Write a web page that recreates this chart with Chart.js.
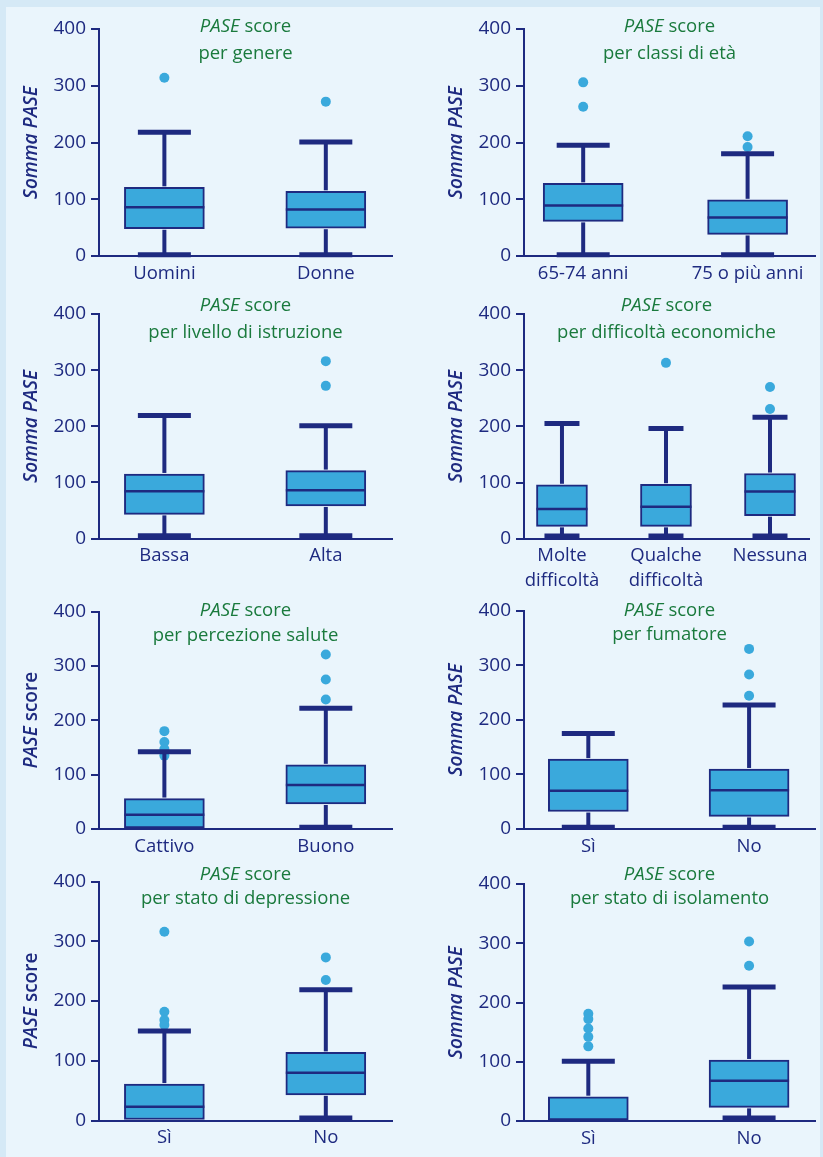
<!DOCTYPE html>
<html>
<head>
<meta charset="utf-8">
<script src="https://cdn.jsdelivr.net/npm/chart.js@4.4.1/dist/chart.umd.min.js"></script>
<style>
  body { margin: 0; width: 823px; height: 1157px; background: #d5e9f6; position: relative; overflow: hidden; }
  #panel { position: absolute; left: 6px; top: 7px; width: 814px; height: 1150px; background: #eaf5fc; }
  canvas { position: absolute; }
</style>
</head>
<body>
<div id="panel"></div>
<canvas id="c0"></canvas><canvas id="c1"></canvas>
<canvas id="c2"></canvas><canvas id="c3"></canvas>
<canvas id="c4"></canvas><canvas id="c5"></canvas>
<canvas id="c6"></canvas><canvas id="c7"></canvas>
<script>
// dati
const titles = ['per genere', 'per classi di età', 'per livello di istruzione', 'per difficoltà economiche',
    'per percezione salute', 'per fumatore', 'per stato di depressione', 'per stato di isolamento'];
const yTitles = ['Somma PASE', 'Somma PASE', 'Somma PASE', 'Somma PASE', 'PASE score', 'Somma PASE', 'PASE score', 'Somma PASE'];
const categories = [
    ['Uomini', 'Donne'],
    ['65-74 anni', '75 o più anni'],
    ['Bassa', 'Alta'],
    [['Molte', 'difficoltà'], ['Qualche', 'difficoltà'], 'Nessuna'],
    ['Cattivo', 'Buono'],
    ['Sì', 'No'],
    ['Sì', 'No'],
    ['Sì', 'No'],
];
const whiskerLow = [[2, 2], [2, 2], [5, 5], [5, 5, 5], [null, 3], [3, 3], [null, 4], [null, 5]];
const q1 = [[48, 49], [61, 38], [43, 58], [22, 22, 41], [0, 46], [32, 23], [0, 43], [0, 23]];
const median = [[86, 82], [89, 68], [84, 86], [53, 57, 84], [26, 81], [70, 71], [23, 80], [0, 68]];
const q3 = [[121, 114], [128, 99], [115, 121], [96, 97, 116], [56, 118], [128, 110], [61, 114], [41, 103]];
const whiskerHigh = [[218, 201], [195, 180], [219, 201], [205, 196, 216], [142, 222], [175, 227], [150, 219], [101, 226]];
const outliers = [
    [[314], [272]],
    [[306, 263], [211, 192]],
    [[], [316, 272]],
    [[], [313], [270, 231]],
    [[180, 160, 147, 135], [321, 275, 238]],
    [[], [330, 283, 244]],
    [[316, 182, 168, 160], [273, 235]],
    [[181, 172, 156, 142, 126], [303, 262]],
];
const yTicks = [0, 100, 200, 300, 400];

// posizione dei pannelli (pixel del canvas)
const layout = [
    { x: 0, y: 0, w: 411, h: 290, left: 99, right: 392, top: 29, bottom: 256, xmin: 0.595, xmax: 2.41, t1: 32, t2: 59 },
    { x: 411, y: 0, w: 412, h: 290, left: 113, right: 404, top: 29, bottom: 256, xmin: 0.64, xmax: 2.41, t1: 32, t2: 59 },
    { x: 0, y: 290, w: 411, h: 300, left: 99, right: 392, top: 24, bottom: 248.5, xmin: 0.595, xmax: 2.41, t1: 21, t2: 48 },
    { x: 411, y: 290, w: 412, h: 300, left: 113, right: 398, top: 24, bottom: 248.7, xmin: 0.635, xmax: 3.375, t1: 21, t2: 48 },
    { x: 0, y: 590, w: 411, h: 270, left: 99, right: 392, top: 21.5, bottom: 239, xmin: 0.595, xmax: 2.41, t1: 26, t2: 51 },
    { x: 411, y: 590, w: 412, h: 270, left: 113, right: 404, top: 20.7, bottom: 239, xmin: 0.6, xmax: 2.41, t1: 26, t2: 50 },
    { x: 0, y: 860, w: 411, h: 297, left: 99, right: 392, top: 21.5, bottom: 260.5, xmin: 0.595, xmax: 2.41, t1: 20, t2: 44 },
    { x: 411, y: 860, w: 412, h: 297, left: 113, right: 404, top: 24, bottom: 261, xmin: 0.6, xmax: 2.41, t1: 20, t2: 44 },
];

const NAVY = '#1e2a80';
const BOX = '#3aa9dc';
const GREEN = '#1a7a3d';
const FONT = "'Open Sans', 'Noto Sans', sans-serif";

function drawParts(ctx, parts, x, y, weight, size) {
    // parts: [testo, corsivo]
    let total = 0;
    parts.forEach(p => {
        ctx.font = (p[1] ? 'italic ' : '') + weight + ' ' + size + 'px ' + FONT;
        total += ctx.measureText(p[0]).width;
    });
    let cx = x - total / 2;
    parts.forEach(p => {
        ctx.font = (p[1] ? 'italic ' : '') + weight + ' ' + size + 'px ' + FONT;
        ctx.fillText(p[0], cx, y);
        cx += ctx.measureText(p[0]).width;
    });
}

function createChart(p) {
    const L = layout[p];
    const cats = categories[p];
    const barW = cats.length === 3 ? 51 : 80;
    const capW = cats.length === 3 ? 35 : 53;
    const canvas = document.getElementById('c' + p);
    canvas.width = L.w;
    canvas.height = L.h;
    canvas.style.left = L.x + 'px';
    canvas.style.top = L.y + 'px';

    const boxes = cats.map((c, i) => ({ x: i + 1, y: [q1[p][i], q3[p][i]] }));
    const dots = [];
    cats.forEach((c, i) => outliers[p][i].forEach(v => dots.push({ x: i + 1, y: v })));

    const boxPlugin = {
        id: 'boxPlot' + p,
        afterDatasetsDraw(chart) {
            const ctx = chart.ctx;
            const xs = chart.scales.x, ys = chart.scales.y;
            ctx.save();
            ctx.strokeStyle = NAVY;
            cats.forEach((c, i) => {
                const cx = xs.getPixelForValue(i + 1);
                const yHi = ys.getPixelForValue(whiskerHigh[p][i]);
                const yQ3 = ys.getPixelForValue(q3[p][i]);
                const yQ1 = ys.getPixelForValue(q1[p][i]);
                ctx.lineWidth = 4;
                ctx.beginPath(); ctx.moveTo(cx, yQ3 - 1); ctx.lineTo(cx, yHi); ctx.stroke();
                ctx.lineWidth = 5;
                ctx.beginPath(); ctx.moveTo(cx - capW / 2, yHi); ctx.lineTo(cx + capW / 2, yHi); ctx.stroke();
                if (whiskerLow[p][i] !== null) {
                    const yLo = ys.getPixelForValue(whiskerLow[p][i]);
                    ctx.lineWidth = 4;
                    ctx.beginPath(); ctx.moveTo(cx, yQ1 + 1); ctx.lineTo(cx, yLo); ctx.stroke();
                    ctx.lineWidth = 5;
                    ctx.beginPath(); ctx.moveTo(cx - capW / 2, yLo); ctx.lineTo(cx + capW / 2, yLo); ctx.stroke();
                }
                if (median[p][i] > 0) {
                    const yMed = ys.getPixelForValue(median[p][i]);
                    ctx.lineWidth = 2.5;
                    ctx.beginPath(); ctx.moveTo(cx - barW / 2, yMed); ctx.lineTo(cx + barW / 2, yMed); ctx.stroke();
                }
            });
            ctx.restore();
        },
        afterDraw(chart) {
            const ctx = chart.ctx;
            const area = chart.chartArea;
            ctx.save();
            // titolo
            ctx.fillStyle = GREEN;
            ctx.textBaseline = 'alphabetic';
            const mid = (area.left + area.right) / 2;
            drawParts(ctx, [['PASE', true], [' score', false]], mid, L.t1, 'normal', 18.5);
            drawParts(ctx, [[titles[p], false]], mid, L.t2, 'normal', 18.5);
            // titolo asse y
            ctx.fillStyle = NAVY;
            ctx.translate(L.left - 67, (area.top + area.bottom) / 2);
            ctx.rotate(-Math.PI / 2);
            ctx.textBaseline = 'middle';
            const parts = yTitles[p] === 'PASE score' ? [['PASE', true], [' score', false]] : [['Somma PASE', true]];
            drawParts(ctx, parts, 0, 0, '600', 19);
            ctx.restore();
        }
    };

    return new Chart(canvas, {
        type: 'bar',
        data: {
            datasets: [
                {
                    data: boxes,
                    backgroundColor: BOX,
                    borderColor: NAVY,
                    borderWidth: 2,
                    borderSkipped: false,
                    barThickness: barW,
                },
                {
                    type: 'scatter',
                    data: dots,
                    pointRadius: 5,
                    pointBackgroundColor: BOX,
                    pointBorderWidth: 0,
                },
            ],
        },
        options: {
            responsive: false,
            animation: false,
            devicePixelRatio: 1,
            layout: { padding: { top: L.top, right: L.w - L.right, bottom: 0, left: 0 } },
            plugins: { legend: { display: false }, tooltip: { enabled: false } },
            scales: {
                x: {
                    type: 'linear',
                    offset: false,
                    min: L.xmin,
                    max: L.xmax,
                    afterBuildTicks: s => { s.ticks = cats.map((c, i) => ({ value: i + 1 })); },
                    afterFit: s => { s.height = L.h - L.bottom; },
                    ticks: {
                        callback: (v, i) => cats[i],
                        font: { family: FONT, size: 18.5, lineHeight: 1.35 },
                        color: NAVY,
                        padding: 5,
                        autoSkip: false,
                        maxRotation: 0,
                    },
                    grid: { display: false, drawTicks: false, offset: false },
                    border: { color: NAVY, width: 2 },
                },
                y: {
                    min: 0,
                    max: 400,
                    afterBuildTicks: s => { s.ticks = yTicks.map(v => ({ value: v })); },
                    afterFit: s => { s.width = L.left; },
                    ticks: {
                        font: { family: FONT, size: 19 },
                        color: NAVY,
                        padding: 5,
                    },
                    grid: { drawOnChartArea: false, drawTicks: true, tickLength: 8, color: NAVY, lineWidth: 2 },
                    border: { color: NAVY, width: 2 },
                },
            },
        },
        plugins: [boxPlugin],
    });
}

for (let p = 0; p < 8; p++) {
    createChart(p);
}
</script>
</body>
</html>
